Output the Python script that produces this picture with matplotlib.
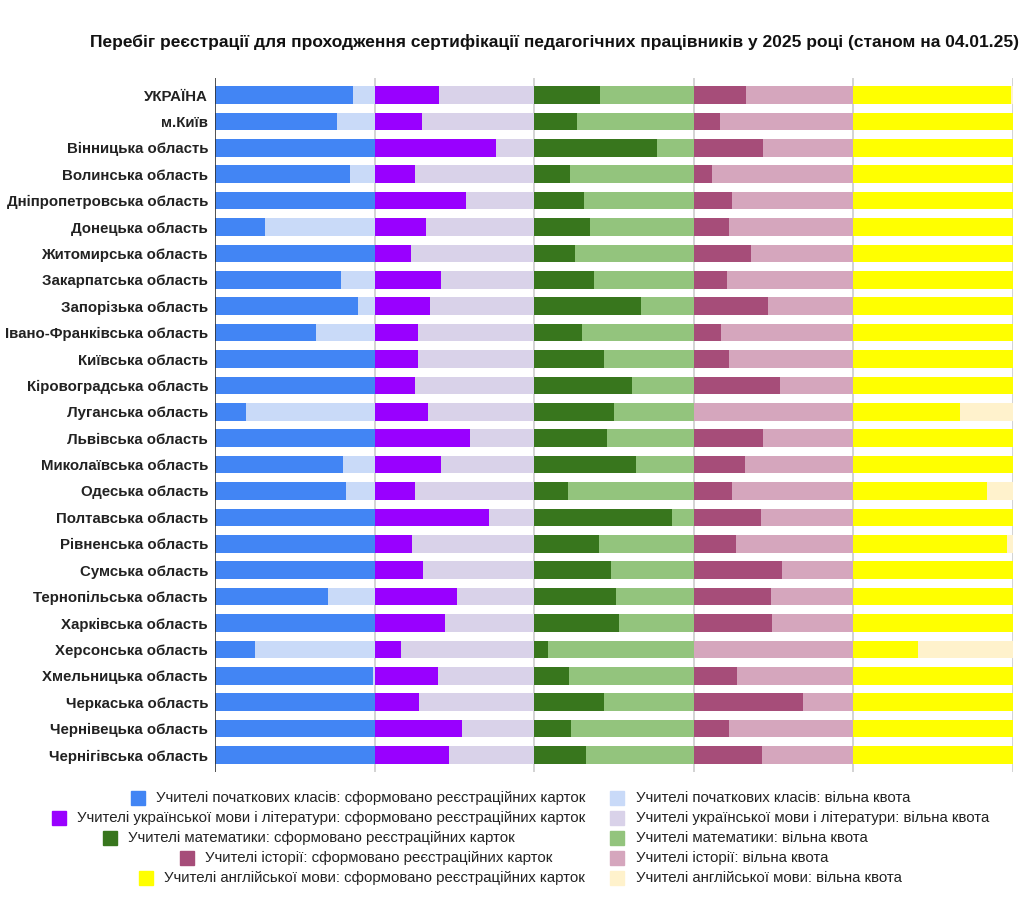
import matplotlib

matplotlib.use("Agg")
import matplotlib.pyplot as plt
from matplotlib.patches import Rectangle

plt.rcParams["font.family"] = ["Liberation Sans", "DejaVu Sans"]

regions = [
    "УКРАЇНА", "м.Київ", "Вінницька область", "Волинська область",
    "Дніпропетровська область", "Донецька область", "Житомирська область",
    "Закарпатська область", "Запорізька область", "Івано-Франківська область",
    "Київська область", "Кіровоградська область", "Луганська область",
    "Львівська область", "Миколаївська область", "Одеська область",
    "Полтавська область", "Рівненська область", "Сумська область",
    "Тернопільська область", "Харківська область", "Херсонська область",
    "Хмельницька область", "Черкаська область", "Чернівецька область",
    "Чернігівська область",
]

# share of quota already filled with registration cards, %
primary = [86.6, 76.6, 100, 84.5, 100, 31.2, 100, 78.9, 89.3, 63.3,
           100, 100, 19.3, 100, 80.0, 82.2, 100, 100, 100, 71.1,
           100, 25.0, 98.7, 100, 100, 100]
ukrainian = [40.2, 29.9, 76.2, 25.3, 57.3, 32.2, 22.8, 41.7, 35.0, 27.0,
             27.0, 25.6, 33.3, 60.0, 41.3, 25.6, 71.7, 23.7, 30.2, 51.4,
             44.4, 16.8, 40.0, 27.7, 55.0, 46.7]
math = [41.4, 26.6, 77.0, 22.7, 31.0, 35.1, 25.8, 37.2, 67.0, 29.7,
        43.6, 61.4, 49.8, 45.8, 63.9, 21.0, 86.3, 40.7, 48.3, 51.5,
        52.9, 8.5, 21.8, 43.6, 22.8, 32.2]
history = [32.6, 16.3, 43.5, 11.3, 23.8, 21.8, 35.8, 20.7, 46.7, 16.9,
           21.8, 54.0, 0.0, 43.5, 32.0, 24.0, 42.0, 26.4, 55.2, 48.3,
           49.0, 0.0, 27.0, 68.6, 21.8, 42.7]
english = [98.5, 100, 100, 100, 100, 100, 100, 100, 100, 100,
           100, 100, 67.1, 100, 100, 83.5, 100, 96.0, 100, 100,
           100, 40.3, 100, 100, 100, 100]

groups = [
    ("Учителі початкових класів", primary, "#4285f4", "#c9daf8"),
    ("Учителі української мови і літератури", ukrainian, "#9900ff", "#d9d2e9"),
    ("Учителі математики", math, "#38761d", "#93c47d"),
    ("Учителі історії", history, "#a64d79", "#d5a6bd"),
    ("Учителі англійської мови", english, "#ffff00", "#fff2cc"),
]

W, H = 1025, 898
fig = plt.figure(figsize=(W / 100, H / 100), dpi=100)
ax = fig.add_axes([215 / W, 1 - 772 / H, (1013 - 215) / W, (772 - 78) / H])

y = list(range(len(regions)))
for g, (name, vals, dark, light) in enumerate(groups):
    filled = [v / 100 for v in vals]
    free = [1 - f for f in filled]
    ax.barh(y, filled, left=g, height=0.66, color=dark, linewidth=0, zorder=2)
    ax.barh(y, free, left=[g + f for f in filled], height=0.66, color=light,
            linewidth=0, zorder=2)

for g in range(len(groups) + 1):
    ax.axvline(g, color="#333333" if g == 0 else "#cccccc", lw=1.2, zorder=3 if g == 0 else 1)

ax.set_xlim(0, len(groups))
ax.set_ylim(len(regions) - 1 + 0.644, -0.644)
ax.set_yticks(y)
ax.set_yticklabels(regions, fontsize=10.8, fontweight="bold", color="#222222")
ax.tick_params(axis="y", length=0, pad=5)
ax.set_xticks([])
for s in ax.spines.values():
    s.set_visible(False)

fig.text(555 / W, 1 - 42 / H,
         "Перебіг реєстрації для проходження сертифікації педагогічних працівників у 2025 році (станом на 04.01.25)",
         ha="center", va="center", fontsize=12.5, fontweight="bold", color="#111111")

# legend, laid out like the original (left column: filled, right column: free quota)
left_x = [131, 52, 103, 180, 139]
rows_y = [798, 818, 838, 858, 878]
for (name, vals, dark, light), lx, ly in zip(groups, left_x, rows_y):
    fig.patches.append(Rectangle((lx / W, 1 - (ly + 7) / H), 14 / W, 14 / H,
                                 transform=fig.transFigure, color=dark))
    fig.text((lx + 25) / W, 1 - ly / H, f"{name}: сформовано реєстраційних карток",
             ha="left", va="center", fontsize=10.8, color="#222222")
    fig.patches.append(Rectangle((610 / W, 1 - (ly + 7) / H), 14 / W, 14 / H,
                                 transform=fig.transFigure, color=light))
    fig.text(636 / W, 1 - ly / H, f"{name}: вільна квота",
             ha="left", va="center", fontsize=10.8, color="#222222")

fig.savefig("out.png", dpi=100)
